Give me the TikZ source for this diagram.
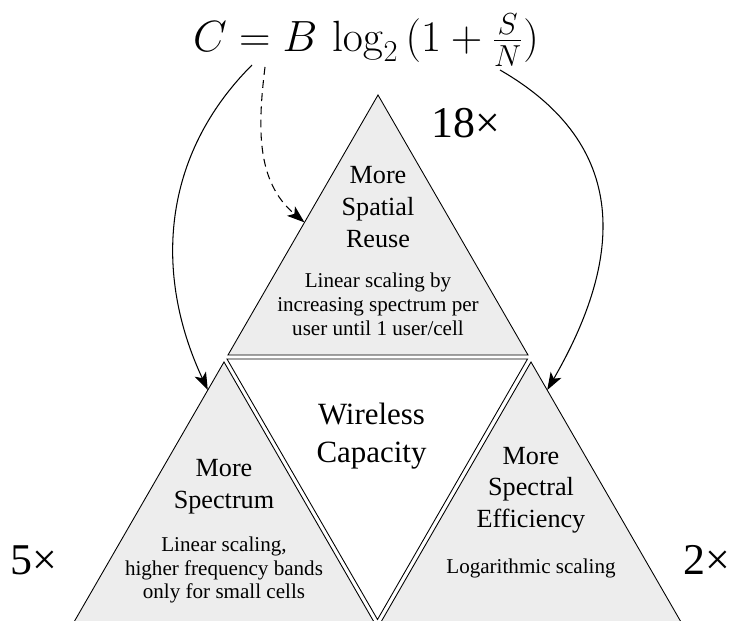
\documentclass[tikz,border=0pt]{standalone}
\usepackage[no-math]{fontspec}
\setmainfont{Liberation Serif}
\usepackage{amsmath}
\usetikzlibrary{arrows.meta, calc}

\tikzset{
	piece/.style={draw, fill=black!7, line width=0.5pt},
	core/.style={draw, fill=white, line width=0.5pt},
	bigtext/.style={align=center, font=\fontsize{14.9}{18}\selectfont},
	smalltext/.style={align=center, font=\fontsize{12}{13.6}\selectfont},
	factor/.style={font=\fontsize{25}{30}\selectfont},
	flow/.style={-{Stealth[length=10pt, width=7pt, inset=2.5pt]}, line width=0.6pt}
}

\begin{document}
\begin{tikzpicture}
	\useasboundingbox (0,0) rectangle (14.64,-12.42);

	% corners of the four pieces
	\coordinate (top)   at (7.56,-1.90);
	\coordinate (topl)  at (4.56,-7.10);
	\coordinate (topr)  at (10.56,-7.10);
	\coordinate (lft)   at (4.48,-7.24);
	\coordinate (lftl)  at (1.48,-12.44);
	\coordinate (lftr)  at (7.48,-12.44);
	\coordinate (rgt)   at (10.62,-7.24);
	\coordinate (rgtl)  at (7.62,-12.44);
	\coordinate (rgtr)  at (13.62,-12.44);

	\draw[piece] (top) -- (topl) -- (topr) -- cycle;
	\draw[piece] (lft) -- (lftl) -- (lftr) -- cycle;
	\draw[piece] (rgt) -- (rgtl) -- (rgtr) -- cycle;
	\draw[core] (4.54,-7.18) -- (10.55,-7.18) -- (7.55,-12.39) -- cycle;

	\node (shannon) at (7.32,-0.80) {\fontsize{25.5}{30}\selectfont $C = B\,\log_2\,(1+\frac{S}{N})$};

	\node[bigtext]   (reuse)     at (7.56,-4.14)  {More\\Spatial\\Reuse};
	\node[smalltext] (reusenote) at (7.56,-6.08)  {Linear scaling by\\increasing spectrum per\\user until 1 user/cell};
	\node[bigtext]   (spectrum)  at (4.48,-9.73)  {More\\Spectrum};
	\node[smalltext] (specnote)  at (4.48,-11.40) {Linear scaling,\\higher frequency bands\\only for small cells};
	\node[bigtext]   (effic)     at (10.62,-9.80) {More\\Spectral\\Efficiency};
	\node[smalltext] (efficnote) at (10.62,-11.36) {Logarithmic scaling};
	\node[align=center, font=\fontsize{17.6}{21.5}\selectfont] (capacity) at (7.43,-8.72) {Wireless\\Capacity};

	\node[factor] (g18) at (9.32,-2.46)  {18×};
	\node[factor] (g5)  at (0.68,-11.20) {5×};
	\node[factor] (g2)  at (14.14,-11.20) {2×};

	% arrows from the formula
	\coordinate (fromB)   at (5.04,-1.30);
	\coordinate (fromlog) at (5.30,-1.34);
	\coordinate (fromSN)  at (10.00,-1.40);
	\coordinate (hitl) at ($(lft)!0.108!(lftl)$);
	\coordinate (hitt) at ($(top)!0.49!(topl)$);
	\coordinate (hitr) at ($(rgt)!0.108!(rgtr)$);

	\draw[flow] (fromB) to[out=225, in=115] (hitl);
	\draw[flow, dash pattern=on 4.5pt off 3pt] (fromlog) to[out=-97, in=140] (hitt);
	\draw[flow] (fromSN) to[out=-30, in=60, looseness=1.2] (hitr);
\end{tikzpicture}
\end{document}
